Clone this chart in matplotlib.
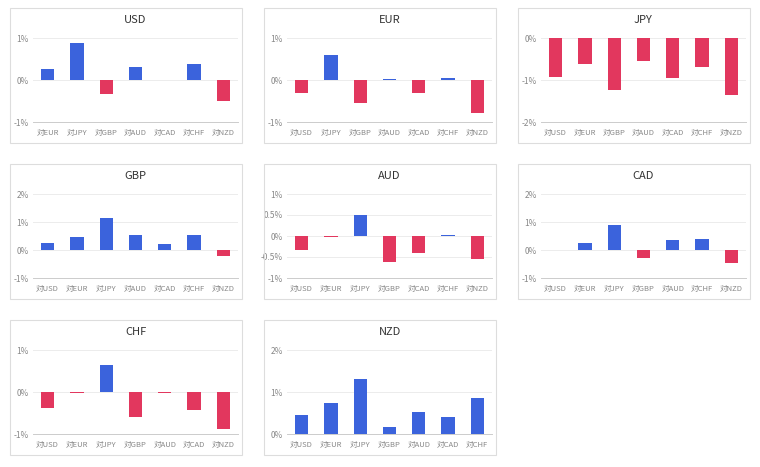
import matplotlib
matplotlib.use('Agg')
import matplotlib.pyplot as plt
from matplotlib.patches import Rectangle
from matplotlib.ticker import FuncFormatter

plt.rcParams['font.family'] = ['Noto Sans CJK JP', 'DejaVu Sans']

ccys = ['USD', 'EUR', 'JPY', 'GBP', 'AUD', 'CAD', 'CHF', 'NZD']

# % change of each currency against the others
usd = [0.26, 0.88, -0.34, 0.32, 0.0, 0.38, -0.50]
eur = [-0.30, 0.60, -0.54, 0.02, -0.32, 0.04, -0.78]
jpy = [-0.92, -0.62, -1.24, -0.54, -0.96, -0.68, -1.36]
gbp = [0.26, 0.48, 1.14, 0.55, 0.20, 0.55, -0.21]
aud = [-0.34, -0.02, 0.51, -0.61, -0.40, 0.03, -0.54]
cad = [0.0, 0.25, 0.88, -0.27, 0.36, 0.38, -0.46]
chf = [-0.39, -0.03, 0.64, -0.60, -0.03, -0.42, -0.87]
nzd = [0.46, 0.74, 1.30, 0.16, 0.52, 0.41, 0.85]
values = [usd, eur, jpy, gbp, aud, cad, chf, nzd]

yticks = [
    [-1, 0, 1], [-1, 0, 1], [-2, -1, 0], [-1, 0, 1, 2],
    [-1, -0.5, 0, 0.5, 1], [-1, 0, 1, 2], [-1, 0, 1], [0, 1, 2],
]

blue = '#3b63dc'
red = '#e2375e'

W, H = 760, 467
fig = plt.figure(figsize=(W / 100, H / 100), dpi=100)

panel_x = [10, 264, 518]
panel_y = [8, 164, 320]
panel_w, panel_h = 232, 135


def fmt(v, pos):
    if v == int(v):
        return '%d%%' % v
    return '%g%%' % v


for i, ccy in enumerate(ccys):
    r, c = divmod(i, 3)
    px, py = panel_x[c], panel_y[r]
    # panel border
    fig.patches.append(Rectangle((px / W, 1 - (py + panel_h) / H), panel_w / W, panel_h / H,
                                 transform=fig.transFigure, fill=False,
                                 edgecolor='#dddddd', linewidth=0.8))
    ax_l, ax_r = px + 23, px + 228
    ax_t, ax_b = py + 30, py + 114
    ax = fig.add_axes([ax_l / W, 1 - ax_b / H, (ax_r - ax_l) / W, (ax_b - ax_t) / H])

    others = [o for o in ccys if o != ccy]
    vals = values[i]
    cols = [blue if v >= 0 else red for v in vals]
    ax.bar(range(7), vals, width=0.45, color=cols, zorder=3)

    yt = yticks[i]
    ax.set_ylim(yt[0], yt[-1])
    ax.set_xlim(-0.5, 6.5)
    ax.set_yticks(yt)
    ax.yaxis.set_major_formatter(FuncFormatter(fmt))
    ax.set_xticks(range(7))
    ax.set_xticklabels(['対' + o for o in others])
    ax.grid(axis='y', color='#ececec', linewidth=0.7, zorder=0)
    for s in ['top', 'right', 'left']:
        ax.spines[s].set_visible(False)
    ax.spines['bottom'].set_color('#cccccc')
    ax.spines['bottom'].set_linewidth(0.7)
    ax.tick_params(axis='x', length=0, labelsize=5.5, colors='#888888', pad=5)
    ax.tick_params(axis='y', length=0, labelsize=6, colors='#888888', pad=3)
    ax.set_title(ccy, fontsize=8, color='#333333', pad=11)

fig.savefig('out.png', dpi=100, facecolor='white')
